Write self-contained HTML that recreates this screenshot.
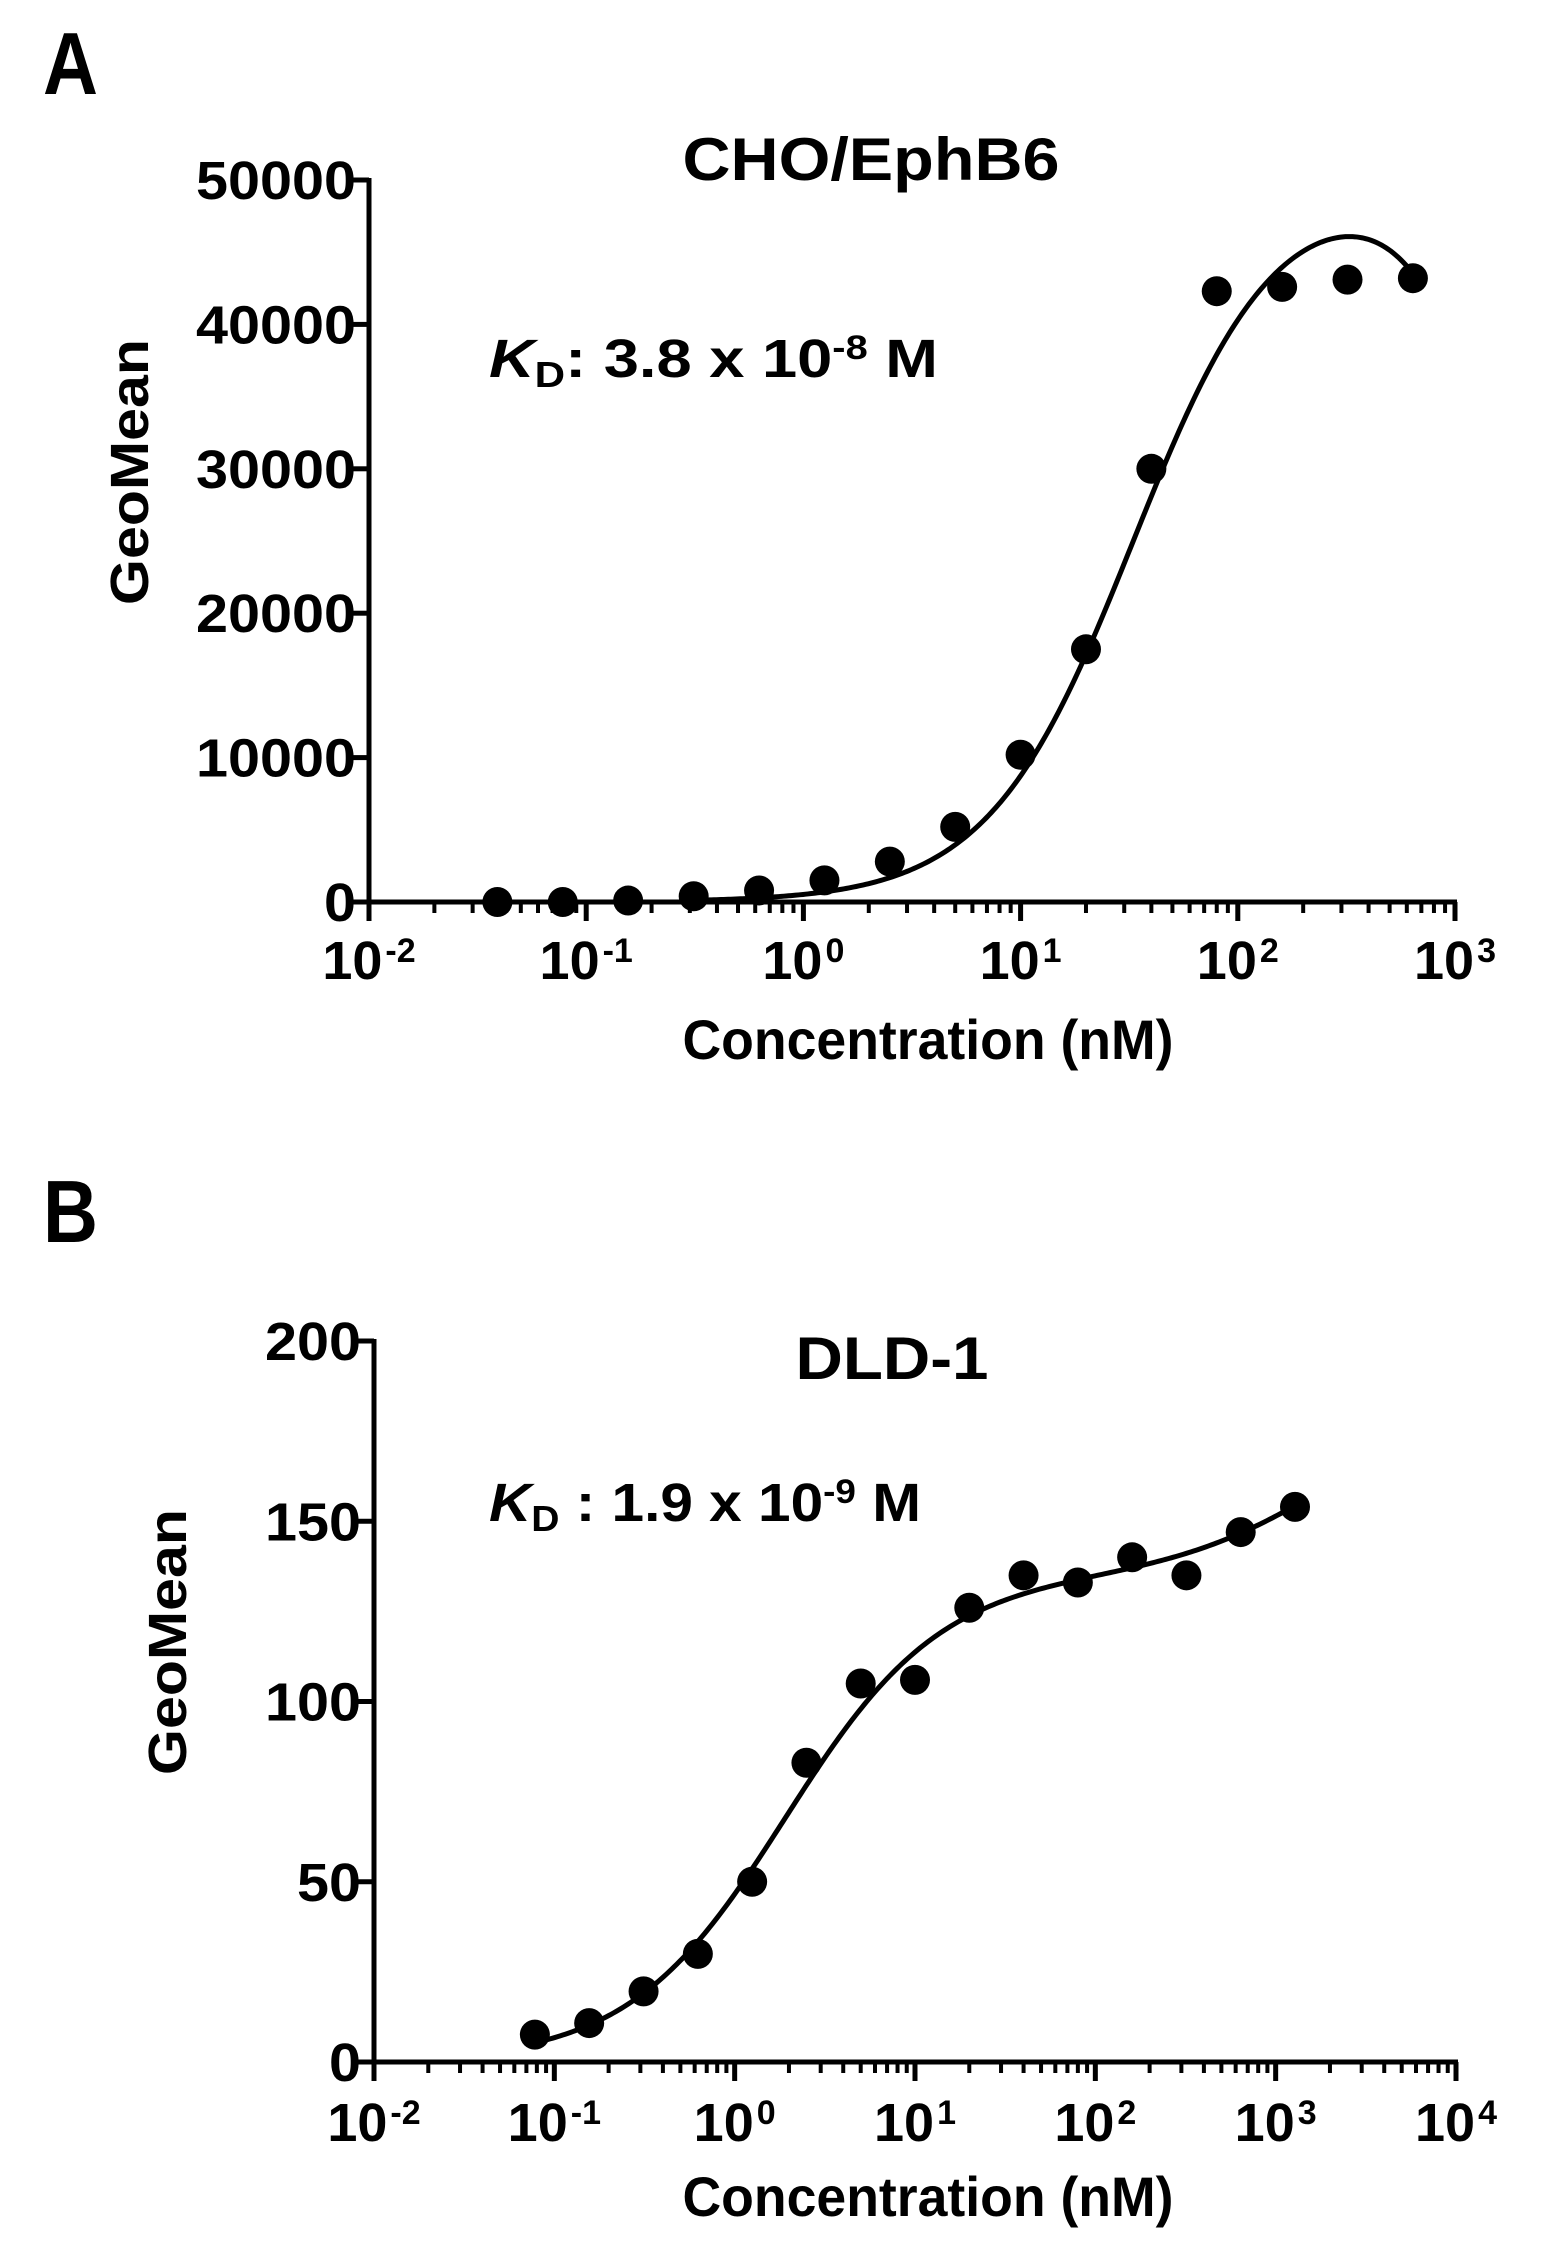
<!DOCTYPE html>
<html><head><meta charset="utf-8"><style>
html,body{margin:0;padding:0;background:#fff;}
svg{display:block;}
text{font-family:"Liberation Sans",Arial,sans-serif;font-weight:bold;fill:#000;}
</style></head>
<body>
<svg id="fig" width="1560" height="2255" viewBox="0 0 1560 2255" xmlns="http://www.w3.org/2000/svg">
<text x="43" y="94" font-size="88" textLength="55" lengthAdjust="spacingAndGlyphs">A</text>
<text x="43" y="1242" font-size="88" textLength="55" lengthAdjust="spacingAndGlyphs">B</text>
<g id="panelA"></g>
<g id="panelB"></g>
</svg>
<script>
// Panel A data
const concA = [0.039,0.078,0.156,0.3125,0.625,1.25,2.5,5,10,20,40,80,160,320,640];
const valuesA = [0,0,100,400,800,1500,2800,5200,10200,17500,30000,42300,42600,43100,43200];
const yTicksA = [0,10000,20000,30000,40000,50000];
const xDecadesA = [-2,-1,0,1,2,3];
const fitParamsA = {top:50000, ec50:33, hill:1.3, ic:1810, hill2:2};
// Panel B data
const concB = [0.078,0.156,0.3125,0.625,1.25,2.5,5,10,20,40,80,160,320,640,1280];
const valuesB = [7.6,10.8,19.6,30,50,83,105,106,126,135,133,140,135,147,154];
const yTicksB = [0,50,100,150,200];
const xDecadesB = [-2,-1,0,1,2,3,4];
const fitParamsB = {a:135, ec1:1.9, h1:1.0, b:50, ec2:2000, h2:1.0};

const NS = "http://www.w3.org/2000/svg";
function mk(tag, attrs, parent){
  const e = document.createElementNS(NS, tag);
  for (const k in attrs) e.setAttribute(k, attrs[k]);
  parent.appendChild(e);
  return e;
}
function fitA(x){const p=fitParamsA;return p.top/(1+Math.pow(p.ec50/x,p.hill))/(1+Math.pow(x/p.ic,p.hill2));}
function fitB(x){const p=fitParamsB;return p.a/(1+Math.pow(p.ec1/x,p.h1))+p.b/(1+Math.pow(p.ec2/x,p.h2));}

function drawPanel(g, cfg){
  const xs = v => cfg.x0 + (Math.log10(v) - cfg.dmin) / (cfg.dmax - cfg.dmin) * (cfg.x1 - cfg.x0);
  const ys = v => cfg.y0 - (v - cfg.ymin) / (cfg.ymax - cfg.ymin) * (cfg.y0 - cfg.y1);
  const ya = mk('line',{x1:cfg.x0,y1:cfg.y0+2,x2:cfg.x0,y2:cfg.y1-2,stroke:'#000','stroke-width':5},g);
  
  
  const xa = mk('line',{x1:cfg.x0-22,y1:cfg.y0,x2:cfg.x1+2,y2:cfg.y0,stroke:'#000','stroke-width':5},g);
  
  
  cfg.yTicks.forEach(t=>{
    const y = ys(t);
    const tl = mk('line',{x1:cfg.x0-16,y1:y,x2:cfg.x0,y2:y,stroke:'#000','stroke-width':5},g);
    
    
    const s = String(t);
    const tx = mk('text',{x:cfg.x0-13,y:y+19,'font-size':54,'text-anchor':'end',textLength:s.length*32,lengthAdjust:'spacingAndGlyphs'},g);
    tx.textContent = s;
    
    
  });
  for (let i=0;i<cfg.decades.length;i++){
    const d = cfg.decades[i];
    const xm = xs(Math.pow(10,d));
    const mt = mk('line',{x1:xm,y1:cfg.y0,x2:xm,y2:cfg.y0+19,stroke:'#000','stroke-width':5},g);
    
    
    const lab = mk('text',{x:xm,y:cfg.labY,'font-size':54,'text-anchor':'middle'},g);
    
    
    const t1 = mk('tspan',{},lab); t1.textContent='10';
    const t2 = mk('tspan',{'font-size':34,dy:-17,dx:3}, lab); t2.textContent=String(d);
    if (i < cfg.decades.length-1){
      for (let m=2;m<=9;m++){
        const xx = xs(m*Math.pow(10,d));
        const nt = mk('line',{x1:xx,y1:cfg.y0,x2:xx,y2:cfg.y0+11,stroke:'#000','stroke-width':4},g);
        
        
      }
    }
  }
  let d = '';
  const lmin = Math.log10(cfg.curveStart), lmax = Math.log10(cfg.conc[cfg.conc.length-1]);
  for (let i=0;i<=300;i++){
    const lv = lmin + (lmax-lmin)*i/300;
    const v = cfg.fit(Math.pow(10,lv));
    d += (i?'L':'M') + xs(Math.pow(10,lv)).toFixed(2) + ',' + ys(v).toFixed(2);
  }
  const cp = mk('path',{d:d,fill:'none',stroke:'#000','stroke-width':5},g);
  
  
  cfg.conc.forEach((c,i)=>{
    const pt = mk('circle',{cx:xs(c),cy:ys(cfg.vals[i]),r:15,fill:'#000'},g);
    
    
  });
  const tt = mk('text',{x:cfg.titleX,y:cfg.titleY,'font-size':60,'text-anchor':'middle',textLength:cfg.titleW,lengthAdjust:'spacingAndGlyphs'},g);
  tt.textContent = cfg.title;
  
  
  const xt = mk('text',{x:928,y:cfg.xTitleY,'font-size':56,'text-anchor':'middle',textLength:491,lengthAdjust:'spacingAndGlyphs'},g);
  xt.textContent = 'Concentration (nM)';
  
  
  const yt = mk('text',{x:0,y:0,'font-size':54,'text-anchor':'middle',textLength:266,lengthAdjust:'spacingAndGlyphs',transform:`translate(${cfg.yTitleX},${cfg.yTitleY}) rotate(-90)`},g);
  yt.textContent = 'GeoMean';
  
  
  const kd = mk('text',{x:489,y:cfg.kdY,'font-size':54,textLength:cfg.kdW,lengthAdjust:'spacingAndGlyphs'},g);
  
  
  const k1 = mk('tspan',{'font-style':'italic'},kd); k1.textContent='K';
  const k2 = mk('tspan',{'font-size':36,dy:10},kd); k2.textContent='D';
  const k3 = mk('tspan',{dy:-10},kd); k3.textContent=cfg.kdMant;
  const k4 = mk('tspan',{'font-size':34,dy:-18},kd); k4.textContent=cfg.kdExp;
  const k5 = mk('tspan',{dy:18},kd); k5.textContent=' M';
}

drawPanel(document.getElementById('panelA'),{
  x0:369,x1:1455,y0:902,y1:180,dmin:-2,dmax:3,ymin:0,ymax:50000,
  yTicks:yTicksA,decades:xDecadesA,conc:concA,vals:valuesA,fit:fitA,curveStart:0.3,
  labY:979,title:'CHO/EphB6',titleX:871,titleY:180,titleW:377,xTitleY:1059,
  yTitleX:148,yTitleY:472,kdY:377,kdMant:':  3.8 x 10',kdExp:'-8',kdW:449
});
drawPanel(document.getElementById('panelB'),{
  x0:374,x1:1456,y0:2062,y1:1341,dmin:-2,dmax:4,ymin:0,ymax:200,
  yTicks:yTicksB,decades:xDecadesB,conc:concB,vals:valuesB,fit:fitB,curveStart:0.078,
  labY:2141,title:'DLD-1',titleX:892,titleY:1379,titleW:193,xTitleY:2216,
  yTitleX:186,yTitleY:1642,kdY:1521,kdMant:' : 1.9 x 10',kdExp:'-9',kdW:432
});
</script>
</body></html>
